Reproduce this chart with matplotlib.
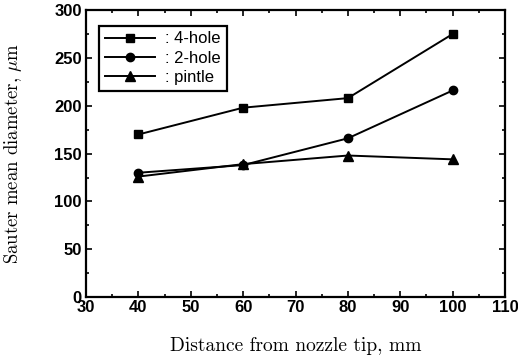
import matplotlib
matplotlib.use("Agg")
import matplotlib.pyplot as plt
from matplotlib.ticker import MultipleLocator

matplotlib.rcParams['mathtext.fontset'] = 'cm'

distance = [40, 60, 80, 100]
four_hole = [170, 198, 208, 275]
two_hole = [130, 138, 166, 216]
pintle = [126, 139, 148, 144]

fig = plt.figure(figsize=(5.18, 3.61), dpi=100)
ax = fig.add_axes([0.166, 0.177, 0.809, 0.795])

ax.plot(distance, four_hole, color='black', lw=1.4, marker='s', ms=6, label=': 4-hole')
ax.plot(distance, two_hole, color='black', lw=1.4, marker='o', ms=6, label=': 2-hole')
ax.plot(distance, pintle, color='black', lw=1.4, marker='^', ms=7, label=': pintle')

ax.set_xlim(30, 110)
ax.set_ylim(0, 300)
ax.xaxis.set_major_locator(MultipleLocator(10))
ax.xaxis.set_minor_locator(MultipleLocator(5))
ax.yaxis.set_major_locator(MultipleLocator(50))
ax.yaxis.set_minor_locator(MultipleLocator(25))
ax.tick_params(which='both', direction='in', top=True, right=True, width=1.2)
ax.tick_params(which='major', length=4)
ax.tick_params(which='minor', length=2)
ax.tick_params(axis='x', pad=2)
ax.tick_params(axis='y', pad=3)
for s in ax.spines.values():
    s.set_linewidth(1.6)

for lab in ax.get_xticklabels() + ax.get_yticklabels():
    lab.set_family('Liberation Sans')
    lab.set_fontsize(12)
    lab.set_fontweight('bold')

ax.set_xlabel('Distance from nozzle tip, mm', family='cmr10', fontsize=14, labelpad=16)
ax.set_ylabel(r'Sauter mean diameter, $\mu$m', family='cmr10', fontsize=13.5, labelpad=22)

leg = ax.legend(loc='upper left', bbox_to_anchor=(0.012, 0.975), fancybox=False, edgecolor='black',
                framealpha=1, prop={'family': 'Liberation Sans', 'size': 12}, handlelength=3.0,
                borderpad=0.35, labelspacing=0.25, handletextpad=0.6)
leg.get_frame().set_linewidth(1.6)

fig.savefig('out.png', dpi=100)
